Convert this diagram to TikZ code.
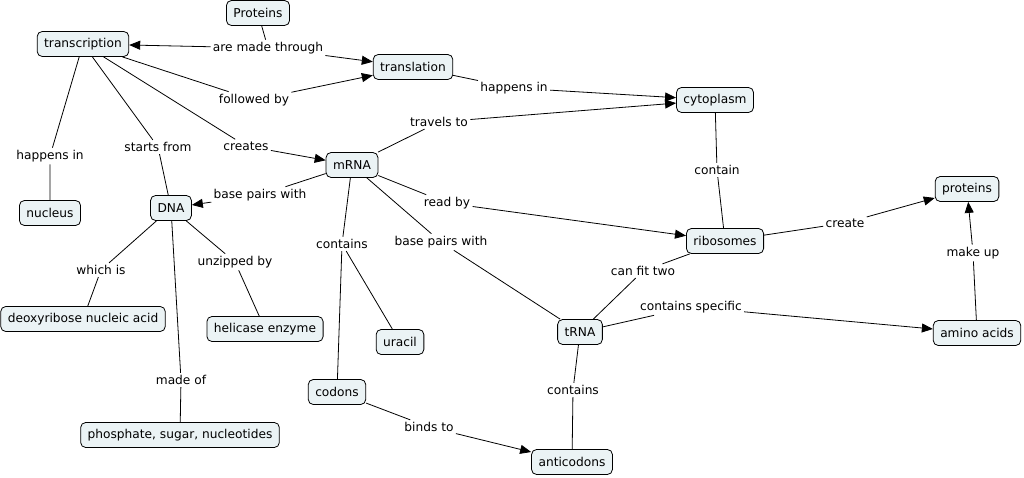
\documentclass[tikz,border=0pt]{standalone}
\usepackage{fontspec}
\setmainfont{DejaVu Sans}
\usetikzlibrary{arrows.meta}

\definecolor{conceptfill}{HTML}{EBF3F5}

\begin{document}
\begin{tikzpicture}[x=1pt, y=-1pt, font=\fontsize{12.2}{14}\selectfont, line width=0.8pt,
    concept/.style={draw, rounded corners=5pt, fill=conceptfill, minimum height=25pt, inner xsep=7pt},
    linkword/.style={fill=white, inner sep=2pt},
    link/.style={-{Triangle[length=11pt,width=9pt]}}]
	\useasboundingbox (0,0) rectangle (1024,478);
	% concepts
	\node[concept] (Proteins) at (258,13) {Proteins};
	\node[concept] (transcription) at (83,44) {transcription};
	\node[concept] (translation) at (413,67) {translation};
	\node[concept] (cytoplasm) at (715,100) {cytoplasm};
	\node[concept] (mRNA) at (352,165) {mRNA};
	\node[concept] (DNA) at (171,208) {DNA};
	\node[concept] (nucleus) at (50,213) {nucleus};
	\node[concept] (proteins) at (967,189) {proteins};
	\node[concept] (ribosomes) at (725,241) {ribosomes};
	\node[concept] (deoxyribose) at (83,319) {deoxyribose nucleic acid};
	\node[concept] (helicase) at (265,329) {helicase enzyme};
	\node[concept] (uracil) at (400,342) {uracil};
	\node[concept] (tRNA) at (580,332) {tRNA};
	\node[concept] (aminoacids) at (977,333) {amino acids};
	\node[concept] (codons) at (337,392) {codons};
	\node[concept] (phosphate) at (180,435) {phosphate, sugar, nucleotides};
	\node[concept] (anticodons) at (572,462) {anticodons};
	% linking words
	\node[linkword] (madethrough) at (268,48) {are made through};
	\node[linkword] (followedby) at (254,100) {followed by};
	\node[linkword] (travelsto) at (439,122) {travels to};
	\node[linkword] (happensinT) at (514,88) {happens in};
	\node[linkword] (happensinN) at (50,156) {happens in};
	\node[linkword] (startsfrom) at (158,147) {starts from};
	\node[linkword] (creates) at (246,146) {creates};
	\node[linkword] (basepairsD) at (260,195) {base pairs with};
	\node[linkword] (contain) at (717,170) {contain};
	\node[linkword] (readby) at (447,203) {read by};
	\node[linkword] (basepairsT) at (441,242) {base pairs with};
	\node[linkword] (containsM) at (342,244) {contains};
	\node[linkword] (create) at (845,223) {create};
	\node[linkword] (canfittwo) at (643,271) {can fit two};
	\node[linkword] (containsspecific) at (691,307) {contains specific};
	\node[linkword] (makeup) at (973,253) {make up};
	\node[linkword] (whichis) at (101,270) {which is};
	\node[linkword] (unzippedby) at (235,262) {unzipped by};
	\node[linkword] (madeof) at (181,380) {made of};
	\node[linkword] (containsT) at (573,390) {contains};
	\node[linkword] (bindsto) at (429,427) {binds to};
	% connections
	\draw (Proteins) -- (madethrough);
	\draw[link] (madethrough) -- (transcription);
	\draw[link] (madethrough) -- (translation);
	\draw (transcription) -- (followedby);
	\draw[link] (followedby) -- (translation);
	\draw (translation) -- (happensinT);
	\draw[link] (happensinT) -- (cytoplasm);
	\draw (transcription) -- (happensinN) -- (nucleus);
	\draw (transcription) -- (startsfrom) -- (DNA);
	\draw (transcription) -- (creates);
	\draw[link] (creates) -- (mRNA);
	\draw (mRNA) -- (travelsto);
	\draw[link] (travelsto) -- (cytoplasm);
	\draw (mRNA) -- (basepairsD);
	\draw[link] (basepairsD) -- (DNA);
	\draw (mRNA) -- (readby);
	\draw[link] (readby) -- (ribosomes);
	\draw (mRNA) -- (basepairsT) -- (tRNA);
	\draw (mRNA) -- (containsM) -- (codons);
	\draw (containsM) -- (uracil);
	\draw (cytoplasm) -- (contain) -- (ribosomes);
	\draw (ribosomes) -- (create);
	\draw[link] (create) -- (proteins);
	\draw (ribosomes) -- (canfittwo) -- (tRNA);
	\draw (tRNA) -- (containsspecific);
	\draw[link] (containsspecific) -- (aminoacids);
	\draw (aminoacids) -- (makeup);
	\draw[link] (makeup) -- (proteins);
	\draw (DNA) -- (whichis) -- (deoxyribose);
	\draw (DNA) -- (unzippedby) -- (helicase);
	\draw (DNA) -- (madeof) -- (phosphate);
	\draw (tRNA) -- (containsT) -- (anticodons);
	\draw (codons) -- (bindsto);
	\draw[link] (bindsto) -- (anticodons);
\end{tikzpicture}
\end{document}
